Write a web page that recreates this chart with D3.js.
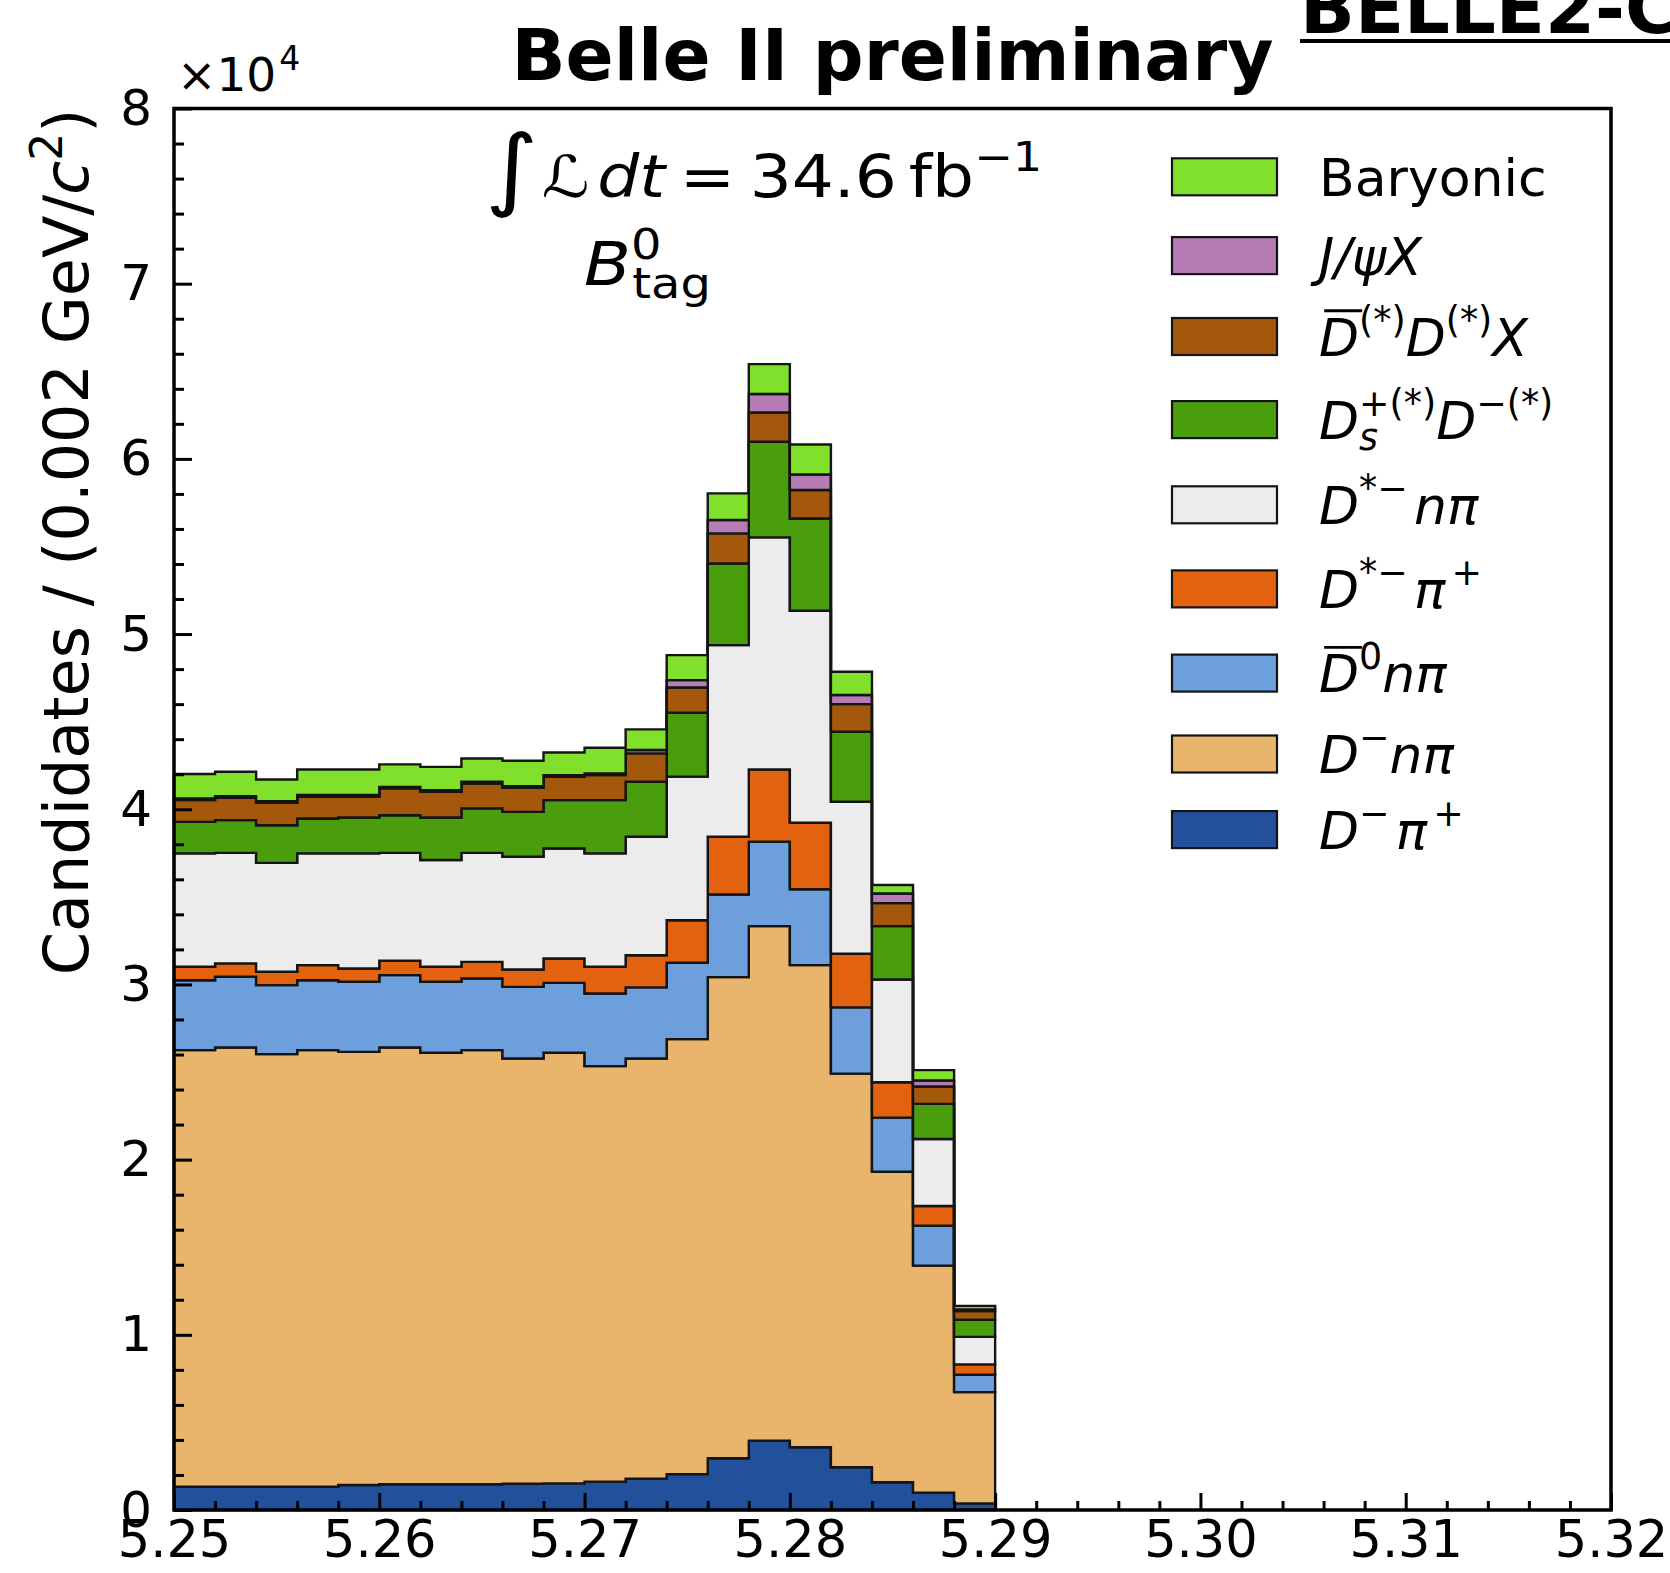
<!DOCTYPE html>
<html>
<head>
<meta charset="utf-8">
<script src="https://cdn.jsdelivr.net/npm/d3@7"></script>
<style>
  body { margin: 0; background: #fff; }
  svg { display: block; }
  text { font-family: "DejaVu Sans", sans-serif; fill: #000; }
</style>
</head>
<body>
<svg id="chart" width="1670" height="1573"></svg>
<script>
// ---- binning: 0.002 GeV/c^2 bins starting at 5.25 GeV/c^2 ----
const binStart = 5.25;
const binStep = 0.002;

// ---- candidates per bin, one array per component (stacking order, bottom first) ----
const dMinusPiPlus   = [1330,1330,1330,1330,1430,1470,1470,1470,1500,1520,1620,1790,2050,2950,3960,3580,2440,1580,990,380];
const dMinusNPi      = [24920,25070,24690,24920,24720,24930,24630,24780,24270,24580,23720,23980,24830,27470,29370,27520,22470,17730,12960,6350];
const dBar0NPi       = [3990,4040,3940,3990,4000,4130,4050,4090,4090,3990,4140,4060,4360,4710,4820,4330,3780,3090,2280,990];
const dStarMinusPiPlus = [770,760,760,860,760,820,860,950,990,1390,1530,1840,2420,3300,4120,3800,3060,2020,1120,590];
const dStarMinusNPi  = [6470,6310,6220,6380,6570,6160,6090,6220,6440,6280,6470,6760,8200,10940,13250,12100,8680,5860,3830,1570];
const dsD            = [1800,1870,2150,1990,2050,2150,2430,2540,2560,2760,3040,3140,3650,4660,5460,5270,4000,3050,2000,980];
const dBarDX         = [1240,1270,1280,1240,1180,1530,1470,1420,1380,1330,1430,1620,1440,1720,1670,1620,1570,1310,990,490];
const jpsiX          = [100,100,90,100,100,90,90,100,90,100,90,190,420,760,1050,890,520,550,350,100];
const baryonic       = [1390,1390,1240,1460,1460,1280,1330,1330,1450,1290,1470,1180,1430,1520,1710,1710,1330,490,590,200];

const componentKeys   = ["dpi", "dnpi", "d0npi", "dstpi", "dstnpi", "dsd", "ddx", "jpsi", "baryon"];
const componentValues = [dMinusPiPlus, dMinusNPi, dBar0NPi, dStarMinusPiPlus, dStarMinusNPi, dsD, dBarDX, jpsiX, baryonic];
const componentColors = ["#22509b", "#e9b46b", "#6c9fdb", "#e3620f", "#ececec", "#4a9e0e", "#a3580b", "#b67cb6", "#80e02c"];

// legend labels as math segments (i = italic, bar = overline, sup/sub = scripts)
const componentLabels = [
  [{t: "D", i: 1}, {t: "\u2212", sup: 1, gap: 0.12}, {t: "\u03C0", i: 1, gap: 0.12}, {t: "+", sup: 1}],
  [{t: "D", i: 1}, {t: "\u2212", sup: 1}, {t: "n\u03C0", i: 1}],
  [{t: "D", i: 1, bar: 1}, {t: "0", sup: 1}, {t: "n\u03C0", i: 1}],
  [{t: "D", i: 1}, {t: "*\u2212", sup: 1, gap: 0.12}, {t: "\u03C0", i: 1, gap: 0.12}, {t: "+", sup: 1}],
  [{t: "D", i: 1}, {t: "*\u2212", sup: 1, gap: 0.12}, {t: "n\u03C0", i: 1, gap: 0.12}],
  [{t: "D", i: 1}, {sub: "s", sup: "+(*)"}, {t: "D", i: 1}, {t: "\u2212(*)", sup: 1}],
  [{t: "D", i: 1, bar: 1}, {t: "(*)", sup: 1}, {t: "D", i: 1}, {t: "(*)", sup: 1}, {t: "X", i: 1}],
  [{t: "J/\u03C8X", i: 1}],
  [{t: "Baryonic"}]
];

// axis labels
const xTickLabels = ["5.25", "5.26", "5.27", "5.28", "5.29", "5.30", "5.31", "5.32"];
const yTickLabels = ["0", "1", "2", "3", "4", "5", "6", "7", "8"];

// ---- layout ----
const svg = d3.select("#chart");
const plot = {left: 174, right: 1611, top: 108.5, bottom: 1510};

const xScale = d3.scaleLinear().domain([5.25, 5.32]).range([plot.left, plot.right]);
const yScale = d3.scaleLinear().domain([0, 80000]).range([plot.bottom, plot.top]);

const nBins = dMinusPiPlus.length;
const edges = d3.range(nBins + 1).map(i => binStart + i * binStep);

// rows for d3.stack
const rows = d3.range(nBins).map(i => {
  const r = {};
  componentKeys.forEach((k, j) => { r[k] = componentValues[j][i]; });
  return r;
});
const stacked = d3.stack().keys(componentKeys)(rows);

// ---- stacked step-filled histogram ----
const histG = svg.append("g");
const line = d3.line();
stacked.forEach((layer, j) => {
  const pts = [];
  layer.forEach((d, i) => {
    pts.push([xScale(edges[i]), yScale(d[1])], [xScale(edges[i + 1]), yScale(d[1])]);
  });
  for (let i = nBins - 1; i >= 0; i--) {
    pts.push([xScale(edges[i + 1]), yScale(layer[i][0])], [xScale(edges[i]), yScale(layer[i][0])]);
  }
  histG.append("path")
    .attr("d", line(pts) + "Z")
    .attr("fill", componentColors[j])
    .attr("stroke", "#141414")
    .attr("stroke-width", 2.4)
    .attr("stroke-linejoin", "miter");
});

// ---- axes (ticks point inward) ----
const xMajor = xTickLabels.map(Number);
const xMinor = d3.range(0, 36).map(i => +(5.25 + i * 0.002).toFixed(3)).filter(v => !xMajor.some(m => Math.abs(m - v) < 1e-9));
const yMajor = yTickLabels.map(s => +s * 10000);
const yMinor = d3.range(0, 41).map(i => i * 2000).filter(v => v % 10000 !== 0);

function styleAxis(g, fontSize) {
  g.select(".domain").remove();
  g.selectAll(".tick line").attr("stroke", "#000").attr("stroke-width", 3);
  g.selectAll(".tick text").attr("font-size", fontSize).attr("fill", "#000")
    .attr("font-family", "DejaVu Sans, sans-serif");
  g.attr("font-family", null).attr("font-size", null);
}

const gxMinor = svg.append("g").attr("transform", `translate(0,${plot.bottom})`)
  .call(d3.axisBottom(xScale).tickValues(xMinor).tickFormat("").tickSize(-9));
styleAxis(gxMinor, 50);
const gx = svg.append("g").attr("transform", `translate(0,${plot.bottom})`)
  .call(d3.axisBottom(xScale).tickValues(xMajor).tickFormat((d, i) => xTickLabels[i]).tickSize(-17).tickPadding(11));
styleAxis(gx, 51);

const gyMinor = svg.append("g").attr("transform", `translate(${plot.left},0)`)
  .call(d3.axisLeft(yScale).tickValues(yMinor).tickFormat("").tickSize(-10));
styleAxis(gyMinor, 50);
const gy = svg.append("g").attr("transform", `translate(${plot.left},0)`)
  .call(d3.axisLeft(yScale).tickValues(yMajor).tickFormat((d, i) => yTickLabels[i]).tickSize(-18).tickPadding(22));
styleAxis(gy, 50);

// frame
svg.append("rect")
  .attr("x", plot.left).attr("y", plot.top)
  .attr("width", plot.right - plot.left).attr("height", plot.bottom - plot.top)
  .attr("fill", "none").attr("stroke", "#000").attr("stroke-width", 3.5);

// ---- math-like text layout helper ----
function mathText(g, segs, x0, base, size) {
  let cx = x0;
  const supSize = size * 0.7, raise = size * 0.44, lower = size * 0.22;
  const put = (txt, x, y, fs, italic) => g.append("text").attr("x", x).attr("y", y).attr("font-size", fs)
      .attr("font-style", italic ? "italic" : "normal").text(txt);
  segs.forEach(s => {
    if (s.sub !== undefined) {
      const a = put(s.sub, cx + (s.subShift || 0) * size, base + lower, supSize, !s.subUpright);
      const b = put(s.sup, cx, base - raise, supSize, false);
      cx += Math.max(a.node().getComputedTextLength() + (s.subShift || 0) * size, b.node().getComputedTextLength());
    } else if (s.sup) {
      const t = put(s.t, cx, base - raise, supSize, false);
      cx += t.node().getComputedTextLength();
    } else {
      const fs = s.scale ? size * s.scale : size;
      const t = put(s.t, cx, base + (s.dy || 0), fs, !!s.i);
      const w = t.node().getComputedTextLength();
      if (s.bar) {
        g.append("line")
          .attr("x1", cx + size * 0.1).attr("x2", cx + w + size * 0.06)
          .attr("y1", base - size * 0.86).attr("y2", base - size * 0.86)
          .attr("stroke", "#000").attr("stroke-width", size * 0.055);
      }
      cx += w;
    }
    if (s.gap) cx += s.gap * size;
  });
  return cx;
}

// ---- legend (row heights follow the label heights) ----
const legend = svg.append("g");
const legendRowY = [176.8, 255.6, 336.5, 419.6, 504.8, 588.9, 673.1, 754, 829.6];
const legendFont = 52;
const legendOrder = d3.range(componentKeys.length).reverse();
legendOrder.forEach((j, r) => {
  const cy = legendRowY[r];
  legend.append("rect")
    .attr("x", 1172).attr("y", cy - 18.5).attr("width", 105).attr("height", 37)
    .attr("fill", componentColors[j]).attr("stroke", "#141414").attr("stroke-width", 2.2);
  mathText(legend, componentLabels[j], 1319, cy + 19, legendFont);
});

// ---- annotations (math set a little wide) ----
const annX = 485;
const ann = svg.append("g").attr("transform", `translate(${annX},0) scale(1.14,1) translate(${-annX},0)`);
mathText(ann, [
  {t: "\u222B", scale: 1.55, dy: 2, gap: 0.05},
  {t: "\u2112", i: 1, gap: 0.12},
  {t: "dt", i: 1, gap: 0.22},
  {t: "=", gap: 0.22},
  {t: "34.6", gap: 0.18},
  {t: "fb"},
  {t: "\u22121", sup: 1}
], annX, 197, 58);

const tagX = 584;
const ann2 = svg.append("g").attr("transform", `translate(${tagX},0) scale(1.14,1) translate(${-tagX},0)`);
mathText(ann2, [
  {t: "B", i: 1},
  {sub: "tag", sup: "0", subUpright: 1, subShift: 0.02}
], tagX, 285, 60);

// title
svg.append("text")
  .attr("x", (plot.left + plot.right) / 2).attr("y", 80)
  .attr("text-anchor", "middle").attr("font-weight", "bold").attr("font-size", 71)
  .text("Belle II preliminary");

// document tag (runs off the right edge)
const tag = svg.append("text")
  .attr("x", 1300).attr("y", 33)
  .attr("font-family", "Liberation Sans, Arial, sans-serif")
  .attr("font-weight", "bold").attr("font-size", 72)
  .text("BELLE2-CONF");
svg.append("line")
  .attr("x1", 1300).attr("x2", 1300 + tag.node().getComputedTextLength())
  .attr("y1", 41).attr("y2", 41)
  .attr("stroke", "#000").attr("stroke-width", 4);

// axis multiplier
const mult = svg.append("text").attr("x", 177).attr("y", 91).attr("font-size", 47);
mult.append("tspan").text("\u00D710");
mult.append("tspan").attr("font-size", 33).attr("dx", 3).attr("dy", -21).text("4");

// y-axis title, aligned to the top of the axis
const yl = svg.append("text")
  .attr("transform", `translate(88,${plot.top}) rotate(-90)`)
  .attr("text-anchor", "end").attr("font-size", 62);
yl.append("tspan").text("Candidates / (0.002 GeV/");
yl.append("tspan").attr("font-style", "italic").text("c");
yl.append("tspan").attr("font-size", 44).attr("dy", -26).text("2");
yl.append("tspan").attr("dy", 26).text(")");
</script>
</body>
</html>
